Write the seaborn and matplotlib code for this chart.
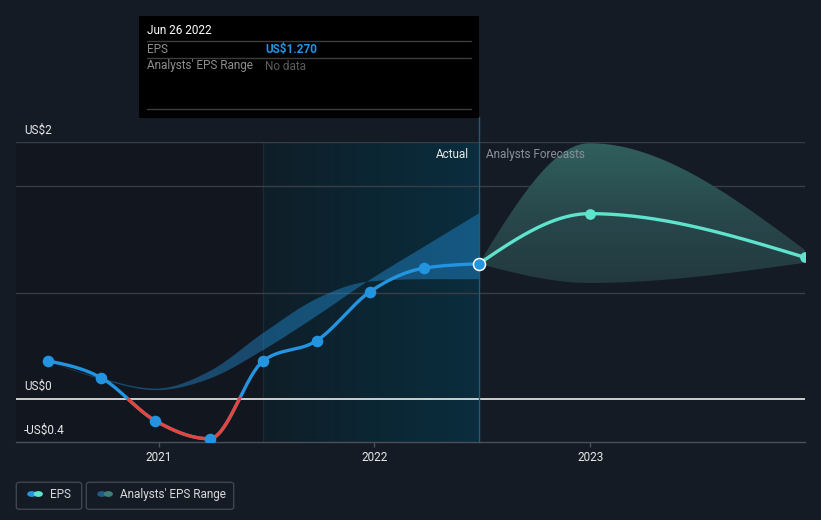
import numpy as np
import pandas as pd
import matplotlib
matplotlib.use("Agg")
import matplotlib.pyplot as plt
from matplotlib.patches import FancyBboxPatch, Circle
from matplotlib.lines import Line2D
from matplotlib.colors import LinearSegmentedColormap
import seaborn as sns

# ---------------- data ----------------
eps_dates = [2020.487, 2020.735, 2020.984, 2021.236, 2021.485, 2021.733, 2021.981, 2022.232, 2022.484]
eps_values = [0.36, 0.20, -0.20, -0.37, 0.36, 0.55, 1.01, 1.23, 1.27]
past_range_a = [0.36, 0.20, 0.105, 0.27, 0.63, 0.95, 1.11, 1.13, 1.13]
past_range_b = [0.36, 0.19, 0.09, 0.20, 0.47, 0.79, 1.13, 1.44, 1.75]
fc_dates = [2022.484, 2022.997, 2023.995]
fc_values = [1.27, 1.74, 1.33]
fc_high = [1.27, 2.40, 1.40]
fc_low = [1.27, 1.09, 1.28]
year_ticks = [2021, 2022, 2023]
year_labels = ["2021", "2022", "2023"]
y_label_text = ["US$2", "US$0", "-US$0.4"]
tooltip_date = "Jun 26 2022"
tooltip_rows = [("EPS", "US$1.270"), ("Analysts' EPS Range", "No data")]
legend_labels = ["EPS", "Analysts' EPS Range"]

# ---------------- style ----------------
BG = "#151b25"
LEFT_BG = "#12161e"
GRID = "#383d46"
BLUE = "#2394df"
RED = "#e4463d"
TEAL = "#5fe3cc"
TXT = "#e8e8e8"
GREY = "#8b9098"

sns.set_theme(style="dark", rc={"axes.facecolor": BG, "figure.facecolor": BG})
plt.rcParams["font.family"] = ["Roboto", "DejaVu Sans"]

W, H = 821, 520


def fx(px):
    return px / W


def fy(py):
    return 1 - py / H


def monotone_curve(xs, ys, n=80):
    x = np.asarray(xs, float)
    y = np.asarray(ys, float)
    h = np.diff(x)
    s = np.diff(y) / h
    m = np.zeros_like(x)
    for i in range(1, len(x) - 1):
        s0, s1 = s[i - 1], s[i]
        p = (s0 * h[i] + s1 * h[i - 1]) / (h[i - 1] + h[i])
        m[i] = (np.sign(s0) + np.sign(s1)) * min(abs(s0), abs(s1), 0.5 * abs(p))
    if len(x) > 2:
        m[0] = (3 * s[0] - m[1]) / 2
        m[-1] = (3 * s[-1] - m[-2]) / 2
    else:
        m[0] = m[-1] = s[0]
    X, Y = [], []
    for i in range(len(x) - 1):
        t = np.linspace(0, 1, n, endpoint=(i == len(x) - 2))
        h00 = 2 * t**3 - 3 * t**2 + 1
        h10 = t**3 - 2 * t**2 + t
        h01 = -2 * t**3 + 3 * t**2
        h11 = t**3 - t**2
        X.append(x[i] + t * h[i])
        Y.append(h00 * y[i] + h10 * h[i] * m[i] + h01 * y[i + 1] + h11 * h[i] * m[i + 1])
    return np.concatenate(X), np.concatenate(Y)


fig = plt.figure(figsize=(W / 100, H / 100), dpi=100, facecolor=BG)
top_px, bot_px, left_px, right_px = 142.3, 442.0, 16.0, 805.0
ax = fig.add_axes([fx(left_px), fy(bot_px), fx(right_px - left_px), (bot_px - top_px) / H])
ax.set_facecolor(BG)

x_per_year = 215.8
x0 = 2021 + (left_px - 158.6) / x_per_year
x1 = 2021 + (right_px - 158.6) / x_per_year
px_per_unit = 106.7
ymin = (399.3 - bot_px) / px_per_unit
ymax = (399.3 - top_px) / px_per_unit
ax.set_xlim(x0, x1)
ax.set_ylim(ymin, ymax)

split = eps_dates[4]
now = eps_dates[-1]

# background regions
ax.axvspan(x0, split, color=LEFT_BG, zorder=0, lw=0)
grad = np.linspace(0, 1, 256).reshape(1, -1)
cm_mid = LinearSegmentedColormap.from_list("mid", ["#0f1e28", "#0c2633", "#0a2d3d"])
ax.imshow(grad, extent=[split, now, ymin, ymax], aspect="auto", cmap=cm_mid, zorder=0.5,
          interpolation="bilinear")
ax.axvline(split, color="#172a36", lw=1, zorder=0.6)

# gridlines
for gy in [1.0, 2.0, ymax]:
    ax.axhline(gy, color=GRID, lw=1, zorder=1)
ax.axhline(0, color="#dcdcdc", lw=1.3, zorder=1.5)

# past analyst range band
bx, ba = monotone_curve(eps_dates, past_range_a)
_, bb = monotone_curve(eps_dates, past_range_b)
ax.fill_between(bx, ba, bb, color=BLUE, alpha=0.42, lw=0, zorder=2)

# forecast range band with vertical gradient
fxs, fh = monotone_curve(fc_dates, fc_high)
_, fl = monotone_curve(fc_dates, fc_low)
poly = ax.fill_between(fxs, fl, fh, color="none", lw=0, zorder=2)
cm_fc = LinearSegmentedColormap.from_list("fc", ["#22373e", "#28484c", "#31615f"])
gv = np.linspace(0, 1, 256).reshape(-1, 1)
im = ax.imshow(gv, extent=[now, x1 + 0.05, 1.0, 2.45], origin="lower", aspect="auto",
               cmap=cm_fc, zorder=2, interpolation="bilinear")
im.set_clip_path(poly.get_paths()[0], transform=ax.transData)

# now line (extends up to tooltip)
ax.axvline(now, ymin=0, ymax=(bot_px - 117) / (bot_px - top_px), color="#1e5d78", lw=1,
           zorder=2.5, clip_on=False)

# EPS line
ex, ey = monotone_curve(eps_dates, eps_values)
df_eps = pd.DataFrame({"date": ex, "eps": ey})
sns.lineplot(data=df_eps, x="date", y="eps", sort=False, estimator=None, color=BLUE, lw=2.4,
             ax=ax, zorder=4)
neg = np.where(ey < 0)[0]
lo, hi = max(neg[0] - 1, 0), min(neg[-1] + 2, len(ey))
df_neg = pd.DataFrame({"date": ex[lo:hi], "eps": ey[lo:hi]})
sns.lineplot(data=df_neg, x="date", y="eps", sort=False, estimator=None, color=RED, lw=2.4,
             ax=ax, zorder=4.1)

# forecast line
fcx, fcy = monotone_curve(fc_dates, fc_values)
df_fc = pd.DataFrame({"date": fcx, "eps": fcy})
sns.lineplot(data=df_fc, x="date", y="eps", sort=False, estimator=None, color=TEAL, lw=2.4,
             ax=ax, zorder=4)

# markers
df_pts = pd.DataFrame({"date": eps_dates[:-1], "eps": eps_values[:-1]})
sns.scatterplot(data=df_pts, x="date", y="eps", color=BLUE, s=70, linewidth=0, ax=ax, zorder=5)
df_fpts = pd.DataFrame({"date": fc_dates[1:], "eps": fc_values[1:]})
sns.scatterplot(data=df_fpts, x="date", y="eps", color=TEAL, s=60, linewidth=0, ax=ax, zorder=5)
sns.scatterplot(x=[eps_dates[-1]], y=[eps_values[-1]], color=BLUE, s=75, edgecolor="white",
                linewidth=1.1, ax=ax, zorder=6)

# axes cosmetics
for sp in ["top", "left", "right"]:
    ax.spines[sp].set_visible(False)
ax.spines["bottom"].set_color("#4a4f58")
ax.spines["bottom"].set_linewidth(1)
ax.set_xticks(year_ticks)
ax.set_xticklabels(year_labels)
ax.set_yticks([])
ax.tick_params(axis="x", colors="#4a4f58", labelcolor=TXT, labelsize=8.5, length=3.5, width=1,
               pad=3, bottom=True)
ax.set_xlabel("")
ax.set_ylabel("")
ax.grid(False)

# y labels (in pixel layout)
for txt, py in zip(y_label_text, [130, 386.5, 430]):
    fig.text(fx(24), fy(py), txt, color=TXT, fontsize=8.5, va="center", ha="left")

fig.text(fx(469), fy(154), "Actual", color=TXT, fontsize=8.5, va="center", ha="right")
fig.text(fx(486), fy(154), "Analysts Forecasts", color=GREY, fontsize=8.5, va="center", ha="left")

# tooltip
fig.patches.append(FancyBboxPatch((fx(139), fy(117.5)), fx(479 - 139), (117.5 - 16) / H,
                                  boxstyle="square,pad=0", transform=fig.transFigure,
                                  facecolor="#000000", edgecolor="none", zorder=10))
fig.text(fx(147), fy(31), tooltip_date, color="#ffffff", fontsize=8.5, va="center", ha="left",
         zorder=11)
for ly in [41.3, 58.3, 109.3]:
    fig.lines.append(Line2D([fx(147), fx(471)], [fy(ly), fy(ly)], transform=fig.transFigure,
                            color="#3d3d3d", lw=1, zorder=11))
row_y = [49.5, 66]
fig.text(fx(147), fy(row_y[0]), tooltip_rows[0][0], color="#8e8e8e", fontsize=8.5, va="center",
         zorder=11)
fig.text(fx(265), fy(row_y[0]), tooltip_rows[0][1], color=BLUE, fontsize=8.5, va="center",
         fontweight="bold", zorder=11)
fig.text(fx(147), fy(row_y[1]), tooltip_rows[1][0], color="#8e8e8e", fontsize=8.5, va="center",
         zorder=11)
fig.text(fx(265), fy(row_y[1]), tooltip_rows[1][1], color="#5c5c5c", fontsize=8.5, va="center",
         zorder=11)

# legend
boxes = [(16.3, 81.7), (86.3, 233.7)]
dot_colors = [(BLUE, TEAL), ("#1f5b82", "#3f7f7a")]
for (bx0, bx1), (c1, c2), lab in zip(boxes, dot_colors, legend_labels):
    fig.patches.append(FancyBboxPatch((fx(bx0), fy(509.3)), fx(bx1 - bx0), (509.3 - 482.3) / H,
                                      boxstyle="round,pad=0,rounding_size=0.004",
                                      transform=fig.transFigure, facecolor="none",
                                      edgecolor="#3f444d", lw=1))
    cx = bx0 + 15.5
    fig.patches.append(Circle((fx(cx), fy(494)), 4.6 / W, transform=fig.transFigure,
                              facecolor=c1, edgecolor="none"))
    fig.patches.append(Circle((fx(cx + 6.5), fy(494)), 4.6 / W, transform=fig.transFigure,
                              facecolor=c2, edgecolor="none"))
    fig.text(fx(cx + 18.5), fy(494.5), lab, color="#d8d8d8", fontsize=8.5, va="center", ha="left")

fig.savefig("out.png", dpi=100, facecolor=BG)
